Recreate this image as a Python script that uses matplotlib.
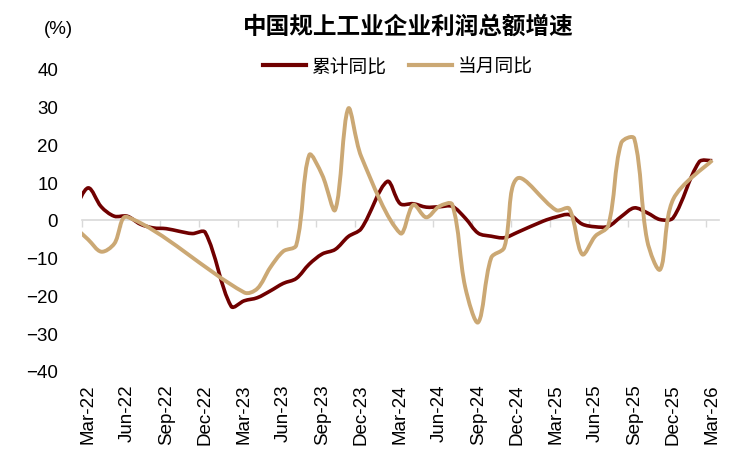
import numpy as np
import pandas as pd
import matplotlib
matplotlib.use("Agg")
import matplotlib.pyplot as plt
from matplotlib.path import Path
from matplotlib.patches import PathPatch
from matplotlib.lines import Line2D

plt.rcParams['font.family'] = ['Liberation Sans', 'Noto Sans CJK SC']

title = "中国规上工业企业利润总额增速"
series_names = ["累计同比", "当月同比"]

# 累计同比 (Jan-Feb reported together, shown at Feb)
cum_months = ['2022-02', '2022-03', '2022-04', '2022-05', '2022-06', '2022-07', '2022-08',
              '2022-09', '2022-10', '2022-11', '2022-12',
              '2023-02', '2023-03', '2023-04', '2023-05', '2023-06', '2023-07', '2023-08',
              '2023-09', '2023-10', '2023-11', '2023-12',
              '2024-02', '2024-03', '2024-04', '2024-05', '2024-06', '2024-07', '2024-08',
              '2024-09', '2024-10', '2024-11', '2024-12',
              '2025-02', '2025-03', '2025-04', '2025-05', '2025-06', '2025-07', '2025-08',
              '2025-09', '2025-10', '2025-11', '2025-12',
              '2026-02', '2026-03']
cum_values = [3.0, 8.5, 3.5, 1.0, 1.0, -1.1, -2.1, -2.3, -3.0, -3.6, -3.3,
              -22.9, -21.4, -20.6, -18.8, -16.8, -15.5, -11.7, -9.0, -7.8, -4.4, -2.3,
              10.2, 4.3, 4.3, 3.4, 3.5, 3.6, 0.5, -3.5, -4.3, -4.7, -3.3,
              -0.3, 0.8, 1.4, -1.1, -1.8, -1.7, 0.9, 3.2, 1.9, 0.1, 0.6,
              15.4, 15.7]

# 当月同比
mon_months = ['2022-02', '2022-03', '2022-04', '2022-05', '2022-06',
              '2023-03', '2023-04', '2023-05', '2023-06', '2023-07', '2023-08',
              '2023-09', '2023-10', '2023-11', '2023-12',
              '2024-03', '2024-04', '2024-05', '2024-06', '2024-07', '2024-08',
              '2024-09', '2024-10', '2024-11', '2024-12',
              '2025-03', '2025-04', '2025-05', '2025-06', '2025-07', '2025-08',
              '2025-09', '2025-10', '2025-11', '2025-12',
              '2026-03']
mon_values = [-2.0, -5.2, -8.4, -6.3, 0.8,
              -19.2, -18.2, -12.6, -8.3, -6.7, 17.2, 11.9, 2.7, 29.5, 16.8,
              -3.5, 4.0, 0.7, 3.6, 4.1, -17.8, -27.1, -10.0, -7.3, 11.0,
              2.6, 3.0, -9.1, -4.3, -1.5, 20.4, 21.6, -5.5, -13.1, 5.5,
              15.8]

tick_labels = ['Mar-22', 'Jun-22', 'Sep-22', 'Dec-22', 'Mar-23', 'Jun-23', 'Sep-23',
               'Dec-23', 'Mar-24', 'Jun-24', 'Sep-24', 'Dec-24', 'Mar-25', 'Jun-25',
               'Sep-25', 'Dec-25', 'Mar-26']

start = pd.Period('2022-03', 'M')


def month_index(months):
    return np.array([(pd.Period(m, 'M') - start).n for m in months], dtype=float)


def smooth_path(ax, x, y):
    # Bezier through the points, control arms scaled by segment length on screen
    pts = np.column_stack([x, y])
    scr = ax.transData.transform(pts)
    seg = np.hypot(*np.diff(scr, axis=0).T)
    n = len(pts)
    c_out = np.zeros_like(pts)
    c_in = np.zeros_like(pts)
    for i in range(n):
        if i == 0:
            d = (pts[1] - pts[0]) / 2
            c_out[i] = pts[i] + d / 3
        elif i == n - 1:
            d = (pts[-1] - pts[-2]) / 2
            c_in[i] = pts[i] - d / 3
        else:
            d = pts[i + 1] - pts[i - 1]
            tot = seg[i - 1] + seg[i]
            c_in[i] = pts[i] - d * seg[i - 1] / tot / 3
            c_out[i] = pts[i] + d * seg[i] / tot / 3
    verts = [pts[0]]
    codes = [Path.MOVETO]
    for i in range(n - 1):
        verts += [c_out[i], c_in[i + 1], pts[i + 1]]
        codes += [Path.CURVE4] * 3
    return Path(verts, codes)


red = '#700000'
tan = '#cba874'

fig = plt.figure(figsize=(7.37, 4.64), dpi=100)
ax = fig.add_axes([0.1109, 0.1983, 0.8643, 0.6509])
ax.set_xlim(-0.5, 48.5)
ax.set_ylim(-40, 40)

ax.add_patch(PathPatch(smooth_path(ax, month_index(cum_months), cum_values), fill=False,
                       edgecolor=red, lw=2.6, capstyle='butt', joinstyle='round', zorder=3))
ax.add_patch(PathPatch(smooth_path(ax, month_index(mon_months), mon_values), fill=False,
                       edgecolor=tan, lw=2.8, capstyle='butt', joinstyle='round', zorder=4))

for s in ax.spines.values():
    s.set_visible(False)

ax.set_yticks(range(-40, 41, 10))
ax.tick_params(axis='y', length=0, pad=17, labelsize=13.5)
ax.set_xticks(range(0, 49, 3))
ax.set_xticklabels(tick_labels, rotation=90)
ax.tick_params(axis='x', length=0, pad=9, labelsize=13.5)

# zero line with tick marks between quarters
sec = ax.secondary_xaxis(0.5)
sec.set_alignment('bottom')
sec.set_xticks(np.arange(-0.5, 48, 3))
sec.tick_params(length=5, width=1, color='#d9d9d9', labelbottom=False, labeltop=False)
sec.spines['bottom'].set_color('#d9d9d9')
sec.spines['bottom'].set_linewidth(1.2)

handles = [Line2D([], [], color=red, lw=3), Line2D([], [], color=tan, lw=3)]
ax.legend(handles, series_names, ncol=2, loc='center',
          bbox_to_anchor=(397.5 / 737, 1 - 68 / 464), bbox_transform=fig.transFigure,
          frameon=False, fontsize=13.5, handlelength=2.3, handletextpad=0.3,
          columnspacing=1.2)

fig.text(408 / 737, 1 - 27 / 464, title, ha='center', va='center', fontsize=17,
         fontweight='bold', family=['Noto Sans CJK SC'])
fig.text(58 / 737, 1 - 30 / 464, '(%)', ha='center', va='center', fontsize=13.5)

fig.savefig('out.png', dpi=100)
